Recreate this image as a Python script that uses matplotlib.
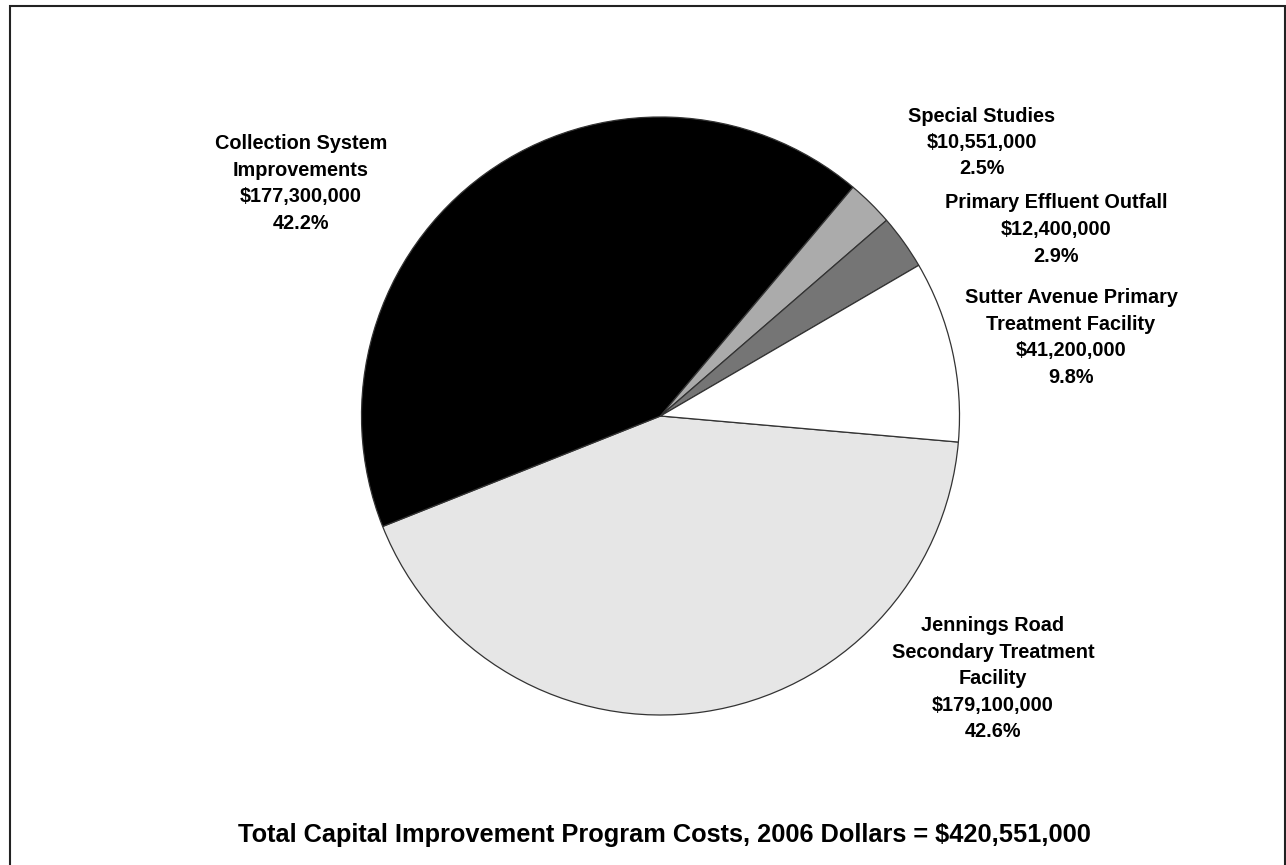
import matplotlib
matplotlib.use("Agg")
import matplotlib.pyplot as plt
from matplotlib.patches import Rectangle

plt.rcParams['font.family'] = ['Liberation Sans', 'DejaVu Sans']

# ---- data ----
categories = [
    "Jennings Road\nSecondary Treatment\nFacility",
    "Collection System\nImprovements",
    "Special Studies",
    "Primary Effluent Outfall",
    "Sutter Avenue Primary\nTreatment Facility",
]
costs = [179_100_000, 177_300_000, 10_551_000, 12_400_000, 41_200_000]
colors = ["#e6e6e6", "#000000", "#ababab", "#757575", "#ffffff"]
title_text = "Total Capital Improvement Program Costs, 2006 Dollars = $420,551,000"

# label anchor positions (pixel coordinates, y from top)
label_pos = [(993, 678.5), (301, 183.5), (982, 142.5), (1056, 229.5), (1071, 337.5)]

W, H = 1286, 865
fig = plt.figure(figsize=(W / 100, H / 100), dpi=100)
ax = fig.add_axes([0, 0, 1, 1])
ax.set_xlim(0, W)
ax.set_ylim(0, H)
ax.set_aspect('equal')
ax.axis('off')

ax.pie(costs, colors=colors, startangle=-5, counterclock=False,
       center=(660.5, H - 416), radius=299,
       wedgeprops=dict(edgecolor="#333333", linewidth=0.9))
ax.set_xlim(0, W)
ax.set_ylim(0, H)

total = sum(costs)
for cat, val, (x, y) in zip(categories, costs, label_pos):
    txt = f"{cat}\n${val:,.0f}\n{100 * val / total:.1f}%"
    ax.text(x, H - y, txt, ha='center', va='center', fontsize=14.3,
            fontweight='bold', linespacing=1.5, color='black')

ax.text(664, H - 835, title_text, ha='center', va='center', fontsize=18.3,
        fontweight='bold', color='black')

ax.add_patch(Rectangle((10, -10), 1275, H - 6 + 10, fill=False,
                       edgecolor='#222222', linewidth=1.5))

fig.savefig("out.png", dpi=100)
